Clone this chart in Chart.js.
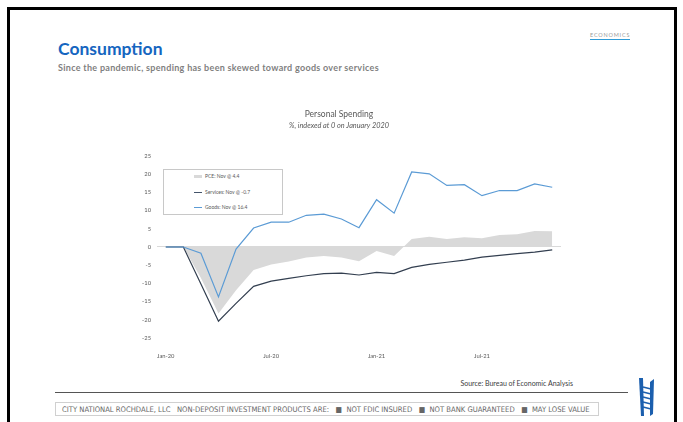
<!DOCTYPE html>
<html>
<head>
<meta charset="utf-8">
<script src="https://cdn.jsdelivr.net/npm/chart.js@4.4.1/dist/chart.umd.min.js"></script>
<style>
  body { margin: 0; width: 683px; height: 422px; background: #fff; overflow: hidden; position: relative; font-family: Lato, "Open Sans", sans-serif; }
  .frame { position: absolute; left: 7px; top: 7px; width: 664px; height: 430px; border: 3px solid #000; }
  .econ { position: absolute; left: 590px; top: 32px; font-size: 5.5px; letter-spacing: 0.8px; color: #9a9a9a; border-bottom: 1px solid #2e9bd6; padding-bottom: 1px; }
  .title { position: absolute; left: 58px; top: 38px; font-size: 17.5px; font-weight: bold; color: #1565c0; }
  .sub { position: absolute; left: 58px; top: 62px; font-size: 9px; font-weight: bold; color: #7f7f7f; letter-spacing: 0.3px; }
  #chart { position: absolute; left: 110px; top: 100px; }
  .legend { position: absolute; left: 163px; top: 169px; width: 118px; height: 44px; border: 1px solid #c8c8c8; background: #fff; }
  .legend div { position: absolute; left: 30px; font-size: 5px; color: #595959; white-space: nowrap; }
  .legend span { display: inline-block; width: 8px; margin-right: 3px; vertical-align: middle; }
  .source { position: absolute; right: 110px; top: 379px; font-size: 7px; color: #404040; }
  .rule { position: absolute; left: 55px; top: 392px; width: 573px; height: 1px; background: #555; }
  .disc { position: absolute; left: 55px; top: 402px; width: 544px; height: 14px; border: 1px solid #d0d0d0; font-family: "Liberation Sans Narrow", "DejaVu Sans Condensed", sans-serif; font-size: 7.6px; color: #666; line-height: 14px; padding-left: 6px; box-sizing: border-box; white-space: nowrap; }
  .logo { position: absolute; left: 637px; top: 376px; }
</style>
</head>
<body>
<div class="frame"></div>
<div class="econ">ECONOMICS</div>
<div class="title">Consumption</div>
<div class="sub">Since the pandemic, spending has been skewed toward goods over services</div>
<canvas id="chart" width="466" height="265"></canvas>
<div class="legend" id="legend"></div>
<div class="source">Source: Bureau of Economic Analysis</div>
<div class="rule"></div>
<div class="disc">CITY NATIONAL ROCHDALE, LLC &nbsp;&nbsp;NON-DEPOSIT INVESTMENT PRODUCTS ARE: &nbsp;&nbsp;&#9632;&nbsp; NOT FDIC INSURED &nbsp;&nbsp;&#9632;&nbsp; NOT BANK GUARANTEED &nbsp;&nbsp;&#9632;&nbsp; MAY LOSE VALUE</div>
<svg class="logo" width="20" height="42" viewBox="0 0 20 42">
  <polygon points="2,2 6,2 7,40 4,40" fill="#1b5fae"/>
  <polygon points="13,6 17,3 16,38 13,40" fill="#1b5fae"/>
  <g stroke="#1b5fae" stroke-width="1.3">
    <line x1="6" y1="11" x2="14" y2="13"/><line x1="6" y1="16" x2="14" y2="18"/>
    <line x1="6" y1="21" x2="14" y2="23"/><line x1="6" y1="26" x2="14" y2="28"/>
    <line x1="6" y1="31" x2="14" y2="33"/>
  </g>
</svg>
<script>
const months = ['Jan-20','Feb-20','Mar-20','Apr-20','May-20','Jun-20','Jul-20','Aug-20','Sep-20','Oct-20','Nov-20','Dec-20',
  'Jan-21','Feb-21','Mar-21','Apr-21','May-21','Jun-21','Jul-21','Aug-21','Sep-21','Oct-21','Nov-21'];
const pce = [0, 0, -8.5, -18.3, -11.9, -6.3, -4.8, -4.0, -2.9, -2.5, -2.9, -3.9, -1.1, -2.5, 2.2, 2.8, 2.2, 2.7, 2.4, 3.3, 3.5, 4.4, 4.3];
const services = [0, 0, -10.2, -20.4, -15.5, -10.8, -9.4, -8.6, -7.9, -7.3, -7.2, -7.7, -7.0, -7.3, -5.6, -4.8, -4.2, -3.6, -2.8, -2.3, -1.8, -1.4, -0.8];
const goods = [0, 0, -1.7, -13.7, -0.6, 5.2, 6.8, 6.8, 8.7, 9.0, 7.7, 5.3, 13.0, 9.3, 20.6, 20.1, 16.9, 17.1, 14.1, 15.5, 15.5, 17.3, 16.4];
const legendNames = ['PCE: Nov @ 4.4', 'Services: Nov @ -0.7', 'Goods: Nov @ 16.4'];
const yTicks = [-25, -20, -15, -10, -5, 0, 5, 10, 15, 20, 25];

// legend box
const leg = document.getElementById('legend');
const swatches = [
  '<span style="height:3px;background:#d9d9d9"></span>',
  '<span style="height:1.3px;background:#44546a"></span>',
  '<span style="height:1.3px;background:#5b9bd5"></span>'
];
legendNames.forEach((name, i) => {
  const d = document.createElement('div');
  d.style.top = (3 + i * 15.5) + 'px';
  d.innerHTML = swatches[i] + name;
  leg.appendChild(d);
});

const font = 'Lato, "Open Sans", sans-serif';

new Chart(document.getElementById('chart'), {
  type: 'line',
  data: {
    labels: months,
    datasets: [{
      label: 'Goods',
      data: goods,
      borderColor: '#5b9bd5',
      borderWidth: 1.2,
      pointRadius: 0,
      fill: false
    }, {
      label: 'Services',
      data: services,
      borderColor: '#333f50',
      borderWidth: 1.2,
      pointRadius: 0,
      fill: false
    }, {
      label: 'PCE',
      data: pce,
      borderWidth: 0,
      borderColor: 'rgba(0,0,0,0)',
      backgroundColor: '#d9d9d9',
      pointRadius: 0,
      fill: 'origin'
    }]
  },
  options: {
    responsive: false,
    animation: false,
    layout: { padding: { left: 7, right: 15, bottom: 7 } },
    plugins: {
      legend: { display: false },
      tooltip: { enabled: false },
      title: {
        display: true,
        text: 'Personal Spending',
        color: '#595959',
        font: { family: font, size: 8.5, weight: 'normal' },
        padding: { top: 9, bottom: 2 }
      },
      subtitle: {
        display: true,
        text: '%, indexed at 0 on January 2020',
        color: '#595959',
        font: { family: font, size: 7.3, style: 'italic' },
        padding: { top: 0, bottom: 26 }
      }
    },
    scales: {
      x: {
        offset: true,
        border: { display: false },
        grid: { display: false },
        afterFit: s => { s.height = 20; },
        ticks: {
          autoSkip: false,
          maxRotation: 0,
          padding: 7,
          color: '#595959',
          font: { family: font, size: 5.8 },
          callback: (v, i) => (i % 6 === 0 ? months[i] : '')
        }
      },
      y: {
        min: -25,
        max: 25,
        border: { display: false },
        afterFit: s => { s.width = 40; },
        afterBuildTicks: s => { s.ticks = yTicks.map(v => ({ value: v })); },
        grid: {
          drawTicks: false,
          lineWidth: 1,
          color: c => (c.tick && c.tick.value === 0 ? '#d9d9d9' : 'rgba(0,0,0,0)')
        },
        ticks: {
          padding: 6,
          color: '#595959',
          font: { family: font, size: 5.8 }
        }
      }
    }
  }
});
</script>
</body>
</html>
